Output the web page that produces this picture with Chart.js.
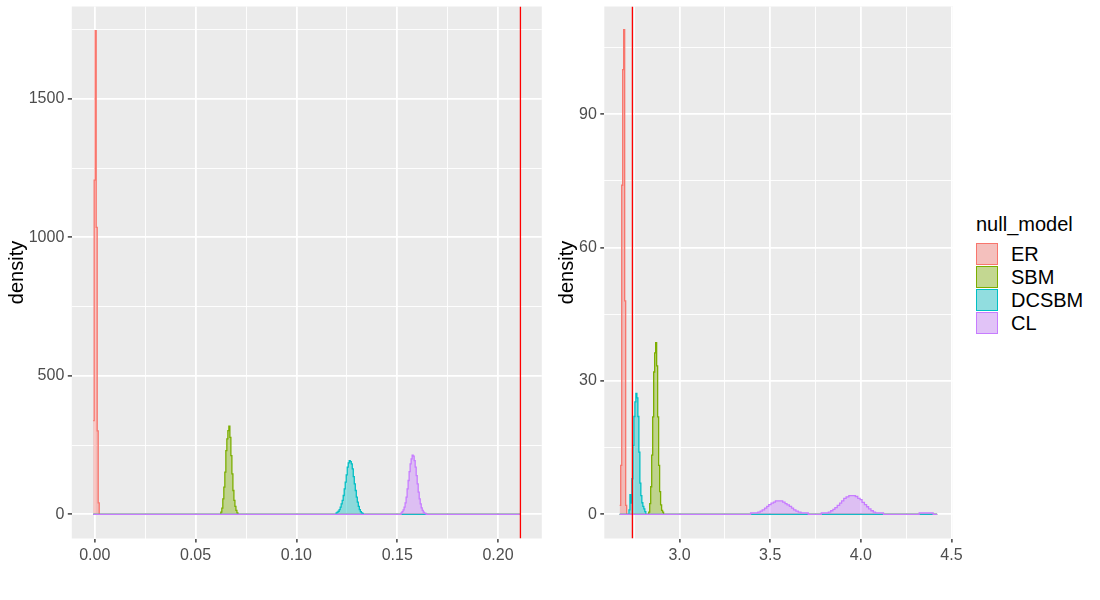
<!DOCTYPE html>
<html lang="en">
<head>
  <meta charset="UTF-8">
  <title>null_model density</title>
  <script src="https://cdn.jsdelivr.net/npm/chart.js"></script>
  <style>
    body {
      margin: 0;
      background: #fff;
      font-family: "Liberation Sans", Arial, sans-serif;
    }
    #wrap {
      position: relative;
      width: 1100px;
      height: 600px;
      background: #fff;
    }
    canvas {
      position: absolute;
      top: 0;
    }
    .lg-title, .lg-label {
      position: absolute;
      font-size: 20px;
      line-height: 20px;
      color: #000;
      white-space: nowrap;
    }
    .lg-key {
      position: absolute;
      width: 22px;
      height: 22px;
      background: #F2F2F2;
    }
    .lg-key div {
      width: 100%;
      height: 100%;
      box-sizing: border-box;
      border: 1px solid;
    }
  </style>
</head>
<body>

<div id="wrap">
  <canvas id="leftChart" width="546" height="600" style="left:0"></canvas>
  <canvas id="rightChart" width="430" height="600" style="left:545px"></canvas>
  <div id="legend"></div>
</div>

<script>
  // groups and colours
  const models = ['ER', 'SBM', 'DCSBM', 'CL'];
  const lineColors = ['#F8766D', '#7CAE00', '#00BFC4', '#C77CFF'];
  const fillColors = ['rgba(248,118,109,0.4)', 'rgba(124,174,0,0.4)', 'rgba(0,191,196,0.4)', 'rgba(199,124,255,0.4)'];

  // observed values (vertical lines)
  const leftObserved = 0.2111;
  const rightObserved = 2.74;

  // ---- left panel: bin left edges and densities ----
  const erLeftX = [-0.0008, -0.0003, 0.0002, 0.0007, 0.0012, 0.0017, 0.0022, 0.2111];
  const erLeftY = [338, 1206, 1746, 1036, 301, 41, 0, 0];

  const sbmLeftX = [-0.0008, 0.0625, 0.0630, 0.0635, 0.0640, 0.0645, 0.0650, 0.0655, 0.0660, 0.0665,
    0.0670, 0.0675, 0.0680, 0.0685, 0.0690, 0.0695, 0.0700, 0.0705, 0.0710, 0.2111];
  const sbmLeftY = [0, 8, 22, 56, 98, 152, 230, 272, 302, 318,
    278, 212, 146, 86, 50, 29, 14, 5, 0, 0];

  const dcsbmLeftX = [-0.0008, 0.1197, 0.1202, 0.1207, 0.1212, 0.1217, 0.1222, 0.1227, 0.1232, 0.1237,
    0.1242, 0.1247, 0.1252, 0.1257, 0.1262, 0.1267, 0.1272, 0.1277, 0.1282, 0.1287,
    0.1292, 0.1297, 0.1302, 0.1307, 0.1312, 0.1317, 0.1322, 0.1327, 0.1332, 0.2111];
  const dcsbmLeftY = [0, 5, 8, 11, 17, 26, 38, 50, 68, 92,
    116, 142, 170, 186, 194, 190, 182, 164, 136, 110,
    86, 62, 44, 29, 17, 10, 5, 3, 0, 0];

  const clLeftX = [-0.0008, 0.1519, 0.1524, 0.1529, 0.1534, 0.1539, 0.1544, 0.1549, 0.1554, 0.1559,
    0.1564, 0.1569, 0.1574, 0.1579, 0.1584, 0.1589, 0.1594, 0.1599, 0.1604, 0.1609,
    0.1614, 0.1619, 0.1624, 0.1629, 0.1634, 0.1639, 0.1644, 0.2111];
  const clLeftY = [0, 5, 10, 16, 26, 41, 62, 92, 122, 154,
    182, 200, 214, 210, 194, 170, 140, 110, 80, 56,
    38, 23, 14, 8, 4, 3, 0, 0];

  // ---- right panel ----
  const erRightX = [2.6700, 2.6755, 2.6810, 2.6864, 2.6919, 2.6974, 2.7029, 2.7084, 4.421];
  const erRightY = [2, 11, 74, 100, 109, 48, 2, 0, 0];

  const sbmRightX = [2.670, 2.8300, 2.8355, 2.8409, 2.8464, 2.8519, 2.8574, 2.8628, 2.8683, 2.8738,
    2.8792, 2.8847, 2.8902, 2.8956, 2.9011, 2.9066, 2.9121, 4.421];
  const sbmRightY = [0, 0.5, 2.4, 6.2, 13.3, 21.9, 32, 36.3, 38.6, 33.4,
    21.9, 11, 5.1, 2.1, 0.9, 0.5, 0, 0];

  const dcsbmRightX = [2.670, 2.7210, 2.7265, 2.7319, 2.7374, 2.7429, 2.7484, 2.7538, 2.7593, 2.7648,
    2.7702, 2.7757, 2.7812, 2.7866, 2.7921, 2.7976, 2.8031, 2.8085, 2.8140, 4.421];
  const dcsbmRightY = [0, 1, 4.4, 2.5, 8, 15.5, 22, 25.3, 27.2, 26.2,
    22, 14, 7, 4.2, 2.6, 1.8, 1.2, 0.6, 0, 0];

  const clRightX = [2.670, 3.392, 3.432, 3.445, 3.456, 3.469, 3.481, 3.492, 3.505, 3.518,
    3.529, 3.569, 3.582, 3.593, 3.606, 3.618, 3.629, 3.642, 3.655, 3.670,
    3.710, 3.782, 3.821, 3.834, 3.846, 3.857, 3.870, 3.883, 3.894, 3.906,
    3.919, 3.934, 3.970, 3.983, 3.996, 4.007, 4.020, 4.032, 4.043, 4.056,
    4.069, 4.081, 4.125, 4.322, 4.399, 4.421];
  const clRightY = [0, 0.34, 0.49, 0.71, 1.0, 1.4, 1.8, 2.2, 2.5, 2.75,
    3.0, 2.75, 2.4, 2.1, 1.8, 1.4, 1.0, 0.7, 0.5, 0.34,
    0, 0.34, 0.5, 0.8, 1.1, 1.5, 2.0, 2.5, 3.0, 3.6,
    3.9, 4.2, 4.0, 3.6, 3.3, 2.7, 2.2, 1.7, 1.2, 0.8,
    0.5, 0.34, 0, 0.34, 0, 0];

  // ---- axes: ranges and ticks ----
  const leftXRange = [-0.0114, 0.2217];
  const leftYRange = [-87.3, 1833];
  const leftXMajor = [0, 0.05, 0.1, 0.15, 0.2];
  const leftXMinor = [0.025, 0.075, 0.125, 0.175];
  const leftYMajor = [0, 500, 1000, 1500];
  const leftYMinor = [250, 750, 1250, 1750];

  const rightXRange = [2.585, 4.508];
  const rightYRange = [-5.44, 114.2];
  const rightXMajor = [3.0, 3.5, 4.0, 4.5];
  const rightXMinor = [2.75, 3.25, 3.75, 4.25];
  const rightYMajor = [0, 30, 60, 90];
  const rightYMinor = [15, 45, 75, 105];

  const FONT = '"Liberation Sans", Arial, sans-serif';

  const panelBg = {
    id: 'panelBg',
    beforeDraw(chart) {
      const { ctx, chartArea: a } = chart;
      ctx.save();
      ctx.fillStyle = '#EBEBEB';
      ctx.fillRect(a.left, a.top, a.right - a.left, a.bottom - a.top);
      ctx.restore();
    }
  };

  function series(xs, ys, i) {
    return {
      label: models[i],
      data: xs.map((x, k) => ({ x: x, y: ys[k] })),
      borderColor: lineColors[i],
      backgroundColor: fillColors[i],
      borderWidth: 1.3,
      fill: 'origin',
      stepped: 'before',
      pointRadius: 0,
      order: 4 - i
    };
  }

  function vline(x, yRange) {
    return {
      label: 'observed',
      data: [{ x: x, y: yRange[0] }, { x: x, y: yRange[1] }],
      borderColor: '#FF0000',
      borderWidth: 1.3,
      pointRadius: 0,
      fill: false,
      order: 0
    };
  }

  function axis(range, major, minor, digits, extra) {
    return Object.assign({
      type: 'linear',
      min: range[0],
      max: range[1],
      afterBuildTicks(scale) {
        scale.ticks = major.concat(minor).sort((a, b) => a - b)
          .map(v => ({ value: v, isMajor: major.includes(v) }));
      },
      border: { display: false },
      grid: {
        color: '#FFFFFF',
        lineWidth: ctx => (ctx.tick && ctx.tick.isMajor) ? 1.8 : 0.9,
        tickColor: ctx => (ctx.tick && ctx.tick.isMajor) ? '#333333' : 'rgba(0,0,0,0)',
        tickWidth: 1.4,
        tickLength: 4
      },
      ticks: {
        autoSkip: false,
        maxRotation: 0,
        color: '#4D4D4D',
        font: { family: FONT, size: 16 },
        callback: v => major.includes(v) ? v.toFixed(digits) : ''
      }
    }, extra);
  }

  function makePanel(id, datasets, xRange, yRange, xMajor, xMinor, yMajor, yMinor, xDigits, yAxisWidth, titlePad, padRight) {
    const xAxis = axis(xRange, xMajor, xMinor, xDigits, {
      afterFit(scale) {
        scale.height = 61.5;
        scale.paddingLeft = 0;
        scale.paddingRight = 0;
      }
    });
    xAxis.ticks.padding = 3;
    const yAxis = axis(yRange, yMajor, yMinor, 0, {
      afterFit(scale) {
        scale.width = yAxisWidth;
        // keep the panel top where the layout padding puts it
        scale.paddingTop = 0;
        scale.paddingBottom = 0;
      },
      title: {
        display: true,
        text: 'density',
        color: '#000',
        font: { family: FONT, size: 20 },
        padding: { top: titlePad, bottom: 0 }
      }
    });
    yAxis.ticks.padding = 3.5;

    return new Chart(document.getElementById(id), {
      type: 'line',
      data: { datasets: datasets },
      options: {
        responsive: false,
        animation: false,
        layout: { padding: { top: 6.5, right: padRight, left: 0, bottom: 0 } },
        plugins: { legend: { display: false }, tooltip: { enabled: false } },
        scales: { x: xAxis, y: yAxis }
      },
      plugins: [panelBg]
    });
  }

  makePanel('leftChart', [
    series(erLeftX, erLeftY, 0),
    series(sbmLeftX, sbmLeftY, 1),
    series(dcsbmLeftX, dcsbmLeftY, 2),
    series(clLeftX, clLeftY, 3),
    vline(leftObserved, leftYRange)
  ], leftXRange, leftYRange, leftXMajor, leftXMinor, leftYMajor, leftYMinor, 2, 71.8, 5, 4.2);

  makePanel('rightChart', [
    series(erRightX, erRightY, 0),
    series(sbmRightX, sbmRightY, 1),
    series(dcsbmRightX, dcsbmRightY, 2),
    series(clRightX, clRightY, 3),
    vline(rightObserved, rightYRange)
  ], rightXRange, rightYRange, rightXMajor, rightXMinor, rightYMajor, rightYMinor, 1, 59.3, 10.5, 22.1);

  // legend
  const legend = document.getElementById('legend');
  let html = '<div class="lg-title" style="left:976px;top:214px">null_model</div>';
  models.forEach((m, i) => {
    const top = 243 + i * 23;
    html += `<div class="lg-key" style="left:976px;top:${top}px"><div style="background:${fillColors[i]};border-color:${lineColors[i]}"></div></div>`;
    html += `<div class="lg-label" style="left:1011px;top:${top + 1}px">${m}</div>`;
  });
  legend.innerHTML = html;
</script>

</body>
</html>
